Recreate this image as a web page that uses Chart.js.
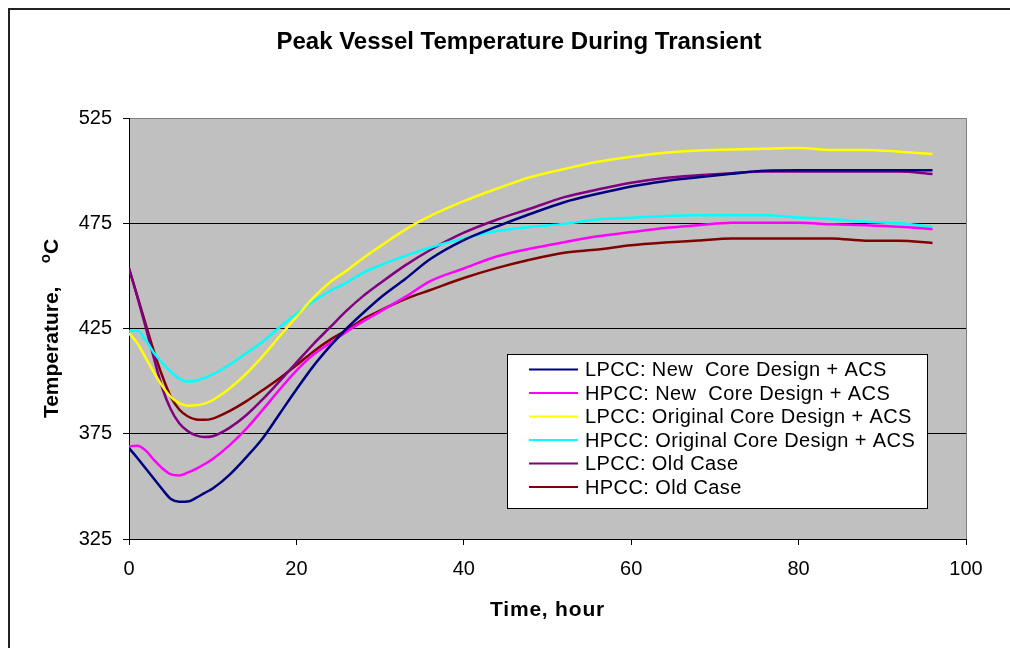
<!DOCTYPE html>
<html lang="en">
<head>
<meta charset="utf-8" />
<title>Peak Vessel Temperature During Transient</title>
<script src="https://cdn.jsdelivr.net/npm/chart.js"></script>
<style>
  html, body { margin: 0; padding: 0; background: #ffffff; }
  #wrap { width: 1010px; height: 648px; }
</style>
</head>
<body>
<div id="wrap"><canvas id="grafico" width="1010" height="648"></canvas></div>
<script>
// time (hour)
const hours = [0, 1, 2, 3, 4, 5, 6, 7, 8, 9, 10, 12, 14, 16, 18, 20, 22, 24, 26, 28, 30, 33, 36, 40, 44, 48, 52, 56, 60, 64, 68, 72, 76, 80, 84, 88, 92, 96];

// peak vessel temperature, oC
const lpccNew  = [368.2, 363.5, 358.5, 353.5, 348.5, 344, 342.7, 342.8, 344.5, 346.8, 349, 355.5, 363.8, 373, 384.5, 396, 407, 416.5, 425, 432.5, 439.5, 448.5, 458, 467, 473.5, 479.5, 485, 489, 492.5, 495, 496.8, 498.5, 500, 500.2, 500.2, 500.2, 500.2, 500.2];
const hpccNew  = [369, 369.3, 367, 362.5, 358.5, 355.7, 355.2, 356.5, 358.3, 360.5, 363, 369.5, 377.3, 386.5, 396, 405, 412.5, 418, 423.5, 428.5, 433, 440, 447.5, 453.5, 459.3, 463, 466, 468.8, 470.8, 472.7, 474, 475.2, 475.2, 475.2, 474.5, 474, 473.3, 472.2];
const lpccOrig = [422.8, 418, 411, 404, 397.5, 392.5, 389.5, 388.3, 388.5, 389.3, 391, 396.5, 403.5, 412, 421.3, 430.5, 439.5, 447, 452.5, 458.5, 464, 472, 478.5, 485.5, 491.5, 497, 500.8, 504.2, 506.6, 508.5, 509.6, 510, 510.4, 510.7, 509.8, 509.8, 509, 507.9];
const hpccOrig = [423.6, 424, 419.5, 413.3, 408.5, 404.5, 401.2, 399.8, 400.2, 401.5, 403.2, 407.8, 413.2, 418.8, 425.6, 432, 437.8, 442.8, 446.8, 451.5, 455, 459.5, 463.5, 467.8, 471.3, 473.3, 474.7, 476.8, 477.6, 478.5, 478.8, 478.8, 478.8, 477.7, 476.9, 475.7, 475, 473.3];
const lpccOld  = [453.6, 440, 425.5, 410.5, 396.5, 386.5, 380, 376.3, 374.2, 373.4, 373.8, 377.8, 383.8, 391.5, 400, 408.8, 417.5, 425.5, 433.5, 440.5, 446.5, 455, 462.3, 470.5, 476.8, 482, 487.4, 491, 494.2, 496.5, 497.8, 498.8, 499.6, 499.6, 499.6, 499.6, 499.6, 498.4];
const hpccOld  = [453.6, 440.3, 427, 413.8, 402.2, 392.5, 386.5, 383.3, 381.8, 381.6, 382.2, 385.8, 390.4, 395.8, 401.4, 407.5, 414, 419.6, 424.2, 429.5, 433.5, 439, 443.3, 449, 453.8, 457.8, 461, 462.5, 464.5, 465.8, 466.8, 467.8, 467.8, 467.8, 467.8, 466.7, 466.7, 465.6];

const seriesNames = [
  'LPCC: New  Core Design + ACS',
  'HPCC: New  Core Design + ACS',
  'LPCC: Original Core Design + ACS',
  'HPCC: Original Core Design + ACS',
  'LPCC: Old Case',
  'HPCC: Old Case'
];
const seriesData = [lpccNew, hpccNew, lpccOrig, hpccOrig, lpccOld, hpccOld];
const seriesColors = ['#000080', '#FF00FF', '#FFFF00', '#00FFFF', '#800080', '#800000'];

const xTicks = [0, 20, 40, 60, 80, 100];
const yTicks = [325, 375, 425, 475, 525];

const FONT = 'Arial, "Liberation Sans", sans-serif';

// fondo gris, marco, titulos y leyenda
const decoraciones = {
  id: 'decoraciones',
  beforeDraw(chart) {
    const ctx = chart.ctx;
    const a = chart.chartArea;
    ctx.save();
    ctx.fillStyle = '#ffffff';
    ctx.fillRect(0, 0, chart.width, chart.height);
    ctx.fillStyle = '#C0C0C0';
    ctx.fillRect(a.left, a.top, a.right - a.left, a.bottom - a.top);
    // marco exterior
    ctx.strokeStyle = '#222222';
    ctx.lineWidth = 2;
    ctx.beginPath();
    ctx.moveTo(9, chart.height);
    ctx.lineTo(9, 9);
    ctx.lineTo(chart.width, 9);
    ctx.stroke();
    ctx.restore();
  },
  afterDraw(chart) {
    const ctx = chart.ctx;
    const a = chart.chartArea;
    ctx.save();
    // borde derecho del area
    ctx.strokeStyle = '#808080';
    ctx.lineWidth = 1;
    ctx.beginPath();
    ctx.moveTo(a.right + 0.5, a.top);
    ctx.lineTo(a.right + 0.5, a.bottom);
    ctx.stroke();

    // titulo
    ctx.fillStyle = '#000000';
    ctx.textAlign = 'center';
    ctx.textBaseline = 'middle';
    ctx.font = 'bold 24px ' + FONT;
    ctx.fillText('Peak Vessel Temperature During Transient', 519, 42);

    // titulo eje x
    ctx.font = 'bold 21px ' + FONT;
    ctx.letterSpacing = '0.8px';
    ctx.fillText('Time, hour', (a.left + a.right) / 2, 610);

    // titulo eje y con superindice
    ctx.letterSpacing = '0px';
    ctx.translate(50, (a.top + a.bottom) / 2);
    ctx.rotate(-Math.PI / 2);
    const big = 'bold 21px ' + FONT;
    const small = 'bold 15px ' + FONT;
    ctx.font = big;
    const t1 = 'Temperature,    ';
    const w1 = ctx.measureText(t1).width;
    const wC = ctx.measureText('C').width;
    ctx.font = small;
    const wo = ctx.measureText('o').width;
    let x = -(w1 + wo + wC) / 2;
    ctx.textAlign = 'left';
    ctx.textBaseline = 'alphabetic';
    ctx.font = big;
    ctx.fillText(t1, x, 8);
    x += w1;
    ctx.font = small;
    ctx.fillText('o', x, 0);
    x += wo;
    ctx.font = big;
    ctx.fillText('C', x, 8);
    ctx.setTransform(1, 0, 0, 1, 0, 0);

    // leyenda
    const lx = 507, ly = 354, lw = 420, lh = 154;
    ctx.fillStyle = '#ffffff';
    ctx.fillRect(lx, ly, lw, lh);
    ctx.strokeStyle = '#000000';
    ctx.lineWidth = 1;
    ctx.strokeRect(lx + 0.5, ly + 0.5, lw, lh);
    ctx.font = '20px ' + FONT;
    ctx.letterSpacing = '0.4px';
    ctx.textAlign = 'left';
    ctx.textBaseline = 'middle';
    chart.data.datasets.forEach((ds, i) => {
      const yy = 369.5 + i * 23.5;
      ctx.strokeStyle = ds.borderColor;
      ctx.lineWidth = 2;
      ctx.beginPath();
      ctx.moveTo(529, yy);
      ctx.lineTo(578, yy);
      ctx.stroke();
      ctx.fillStyle = '#000000';
      ctx.fillText(ds.label, 585, yy + 1);
    });
    ctx.restore();
  }
};

const datasets = seriesNames.map((name, i) => ({
  label: name,
  data: hours.map((h, j) => ({ x: h, y: seriesData[i][j] })),
  borderColor: seriesColors[i],
  backgroundColor: seriesColors[i],
  borderWidth: 2.5,
  pointRadius: 0,
  fill: false,
  cubicInterpolationMode: 'monotone'
}));

new Chart(document.getElementById('grafico'), {
  type: 'line',
  data: { datasets: datasets },
  plugins: [decoraciones],
  options: {
    responsive: false,
    animation: false,
    layout: { padding: { left: 9, right: 44, top: 118, bottom: 0 } },
    plugins: {
      legend: { display: false },
      title: { display: false },
      tooltip: { enabled: false }
    },
    scales: {
      x: {
        type: 'linear',
        min: 0,
        max: 100,
        afterBuildTicks: (s) => { s.ticks = xTicks.map(v => ({ value: v })); },
        afterFit: (s) => { s.height = 109; },
        ticks: { color: '#000', font: { family: FONT, size: 20 }, padding: 12, maxRotation: 0 },
        grid: { drawOnChartArea: false, drawTicks: true, tickLength: 6, color: '#000000' },
        border: { display: true, color: '#000000', width: 1 },
        title: { display: false }
      },
      y: {
        min: 325,
        max: 525,
        afterBuildTicks: (s) => { s.ticks = yTicks.map(v => ({ value: v })); },
        afterFit: (s) => { s.width = 120; },
        ticks: { color: '#000', font: { family: FONT, size: 20 }, padding: 11 },
        grid: {
          drawTicks: true,
          tickLength: 6,
          color: (c) => (c.tick && c.tick.value === 525 ? '#808080' : '#000000'),
          tickColor: '#000000'
        },
        border: { display: true, color: '#000000', width: 1 }
      }
    }
  }
});
</script>
</body>
</html>
